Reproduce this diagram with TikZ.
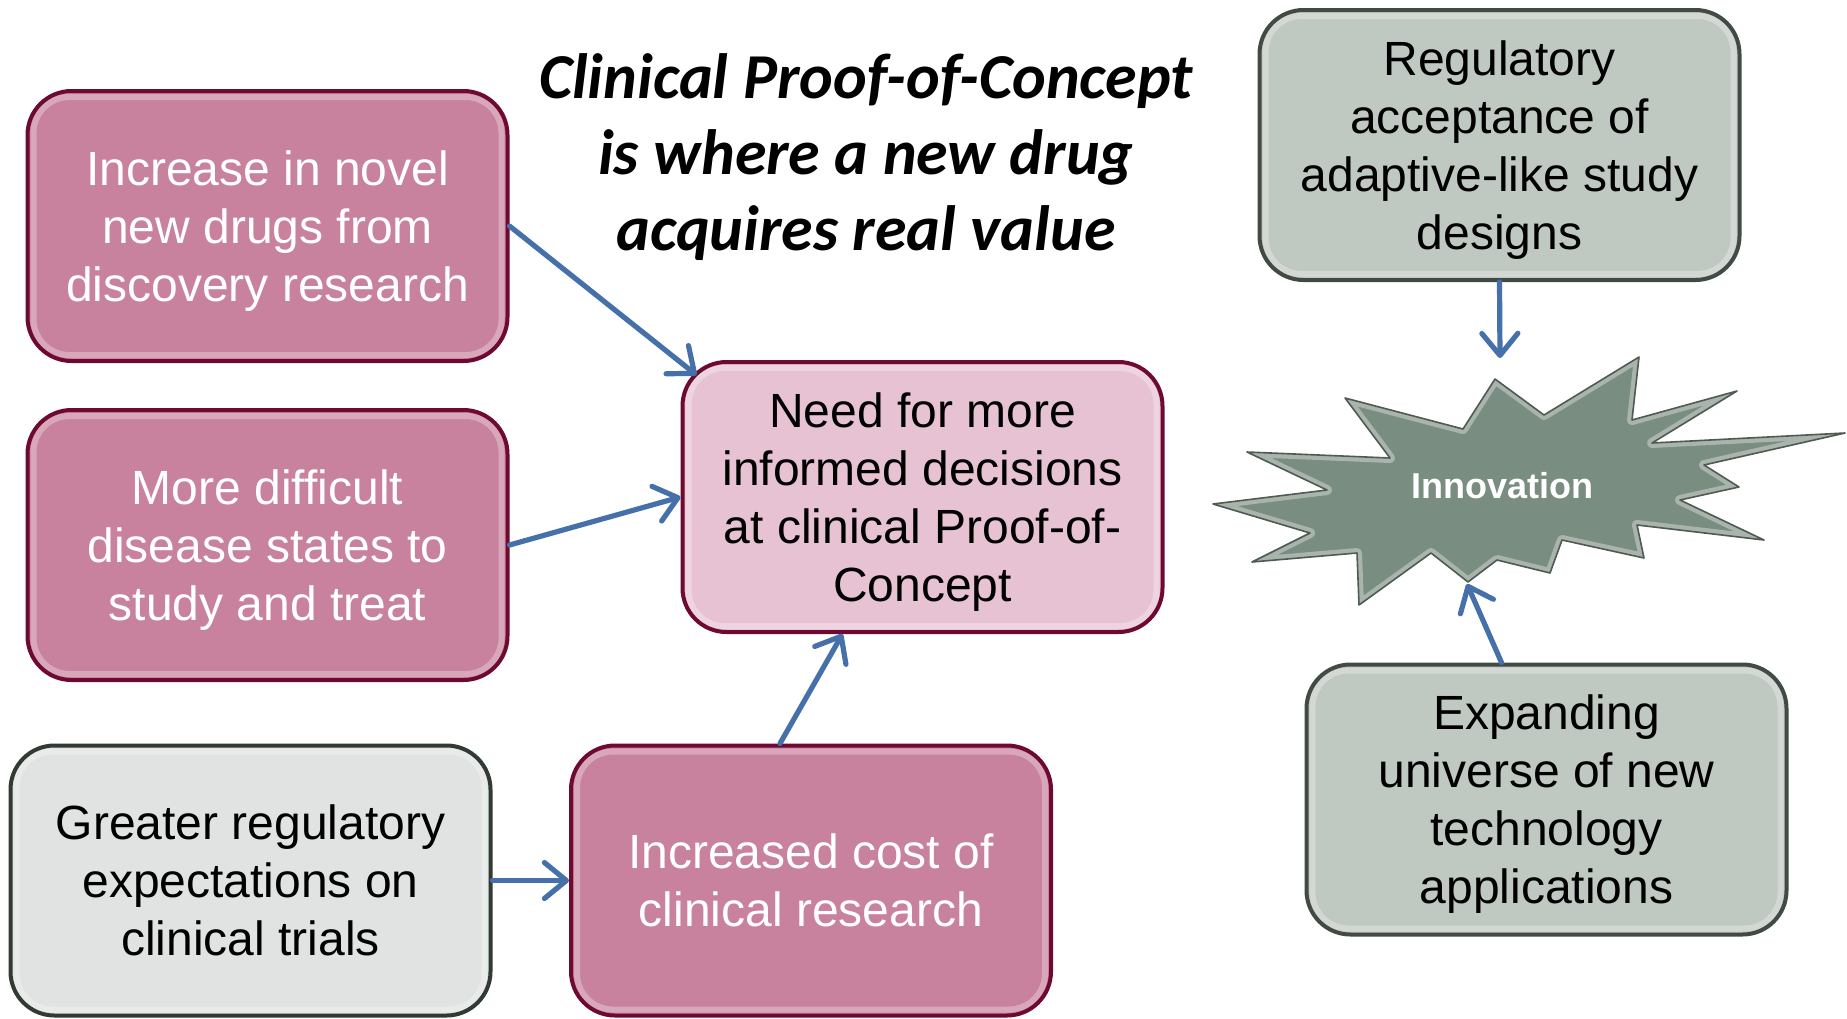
\documentclass[tikz,border=0pt]{standalone}
\usepackage{fontspec}
\setmainfont{Liberation Sans}
\newfontfamily\titlefont{Carlito}
\usetikzlibrary{arrows.meta}

\definecolor{rosefill}{RGB}{200,130,157}
\definecolor{roseline}{RGB}{110,10,50}
\definecolor{blushfill}{RGB}{231,194,211}
\definecolor{mistfill}{RGB}{224,227,225}
\definecolor{mistline}{RGB}{50,58,52}
\definecolor{sagefill}{RGB}{192,200,194}
\definecolor{sageline}{RGB}{65,75,68}
\definecolor{starfill}{RGB}{122,141,129}
\definecolor{starline}{RGB}{78,90,82}
\definecolor{arrowblue}{RGB}{70,112,170}

\tikzset{
    box/.style={rectangle, rounded corners=22pt, line width=2pt, inner sep=0pt,
        minimum width=240pt, minimum height=135pt, align=center, text depth=0pt,
        font=\fontsize{24}{29}\selectfont,
        path picture={\draw[white, opacity=0.3, line width=3pt, rounded corners=18pt]
            ([shift={(3pt,-3pt)}]path picture bounding box.north west) rectangle
            ([shift={(-3pt,3pt)}]path picture bounding box.south east);}},
    rosebox/.style={box, fill=rosefill, draw=roseline, text=white},
    blushbox/.style={box, fill=blushfill, draw=roseline, text=black},
    mistbox/.style={box, fill=mistfill, draw=mistline, text=black},
    sagebox/.style={box, fill=sagefill, draw=sageline, text=black},
    link/.style={draw=arrowblue, line width=2.6pt, line cap=round,
        -{Straight Barb[length=11pt, width=18pt, round]}}
}

\newcommand{\innostar}{(1495,379) -- (1544,415) -- (1639,357) -- (1632,420) -- (1737,391)
    -- (1652,443) -- (1845,433) -- (1704,465) -- (1739,487) -- (1680,500) -- (1764,540)
    -- (1637,525) -- (1644,558) -- (1562,540) -- (1550,573) -- (1497,560) -- (1468,582)
    -- (1431,553) -- (1359,605) -- (1357,553) -- (1252,562) -- (1310,533) -- (1213,504)
    -- (1327,490) -- (1247,452) -- (1390,458) -- (1345,398) -- (1463,429) -- cycle}

\begin{document}
\begin{tikzpicture}[x=0.5pt, y=-0.5pt]
    \useasboundingbox (0,0) rectangle (1847,1018);

    % title
    \node[align=center, font=\titlefont\bfseries\itshape\fontsize{32}{38}\selectfont]
        (title) at (866,157) {Clinical Proof-of-Concept\\is where a new drug\\acquires real value};

    % boxes
    \node[rosebox] (novel) at (267.5,226) {Increase in novel\\new drugs from\\discovery research};
    \node[rosebox] (disease) at (267.5,545) {More difficult\\disease states to\\study and treat};
    \node[mistbox] (expect) at (250.5,880.5) {Greater regulatory\\expectations on\\clinical trials};
    \node[rosebox] (cost) at (811,880.5) {Increased cost of\\clinical research};
    \node[blushbox] (need) at (922.5,497) {Need for more\\informed decisions\\at clinical Proof-of-\\Concept};
    \node[sagebox] (accept) at (1499.5,145) {Regulatory\\acceptance of\\adaptive-like study\\designs};
    \node[sagebox] (expand) at (1546.5,799.5) {Expanding\\universe of new\\technology\\applications};

    % innovation star
    \fill[starfill] \innostar;
    \begin{scope}
        \clip \innostar;
        \draw[white, opacity=0.35, line width=5pt, line join=round] \innostar;
    \end{scope}
    \draw[starline, line width=0.8pt, line join=round] \innostar;
    \node[text=white, font=\bfseries\fontsize{18}{22}\selectfont] (inno) at (1502,486) {Innovation};
    \coordinate (startop) at (1500,358);
    \coordinate (starbot) at (1467,584);

    % connectors
    \draw[link] (novel.east) -- ([shift={(16,15)}]need.north west);
    \draw[link] (disease.east) -- (need.west);
    \draw[link] (expect.east) -- (cost.west);
    \draw[link] ([shift={(-31,0)}]cost.north) -- ([shift={(-80,0)}]need.south);
    \draw[link] (accept.south) -- (startop);
    \draw[link] ([shift={(-45,0)}]expand.north) -- (starbot);
\end{tikzpicture}
\end{document}
